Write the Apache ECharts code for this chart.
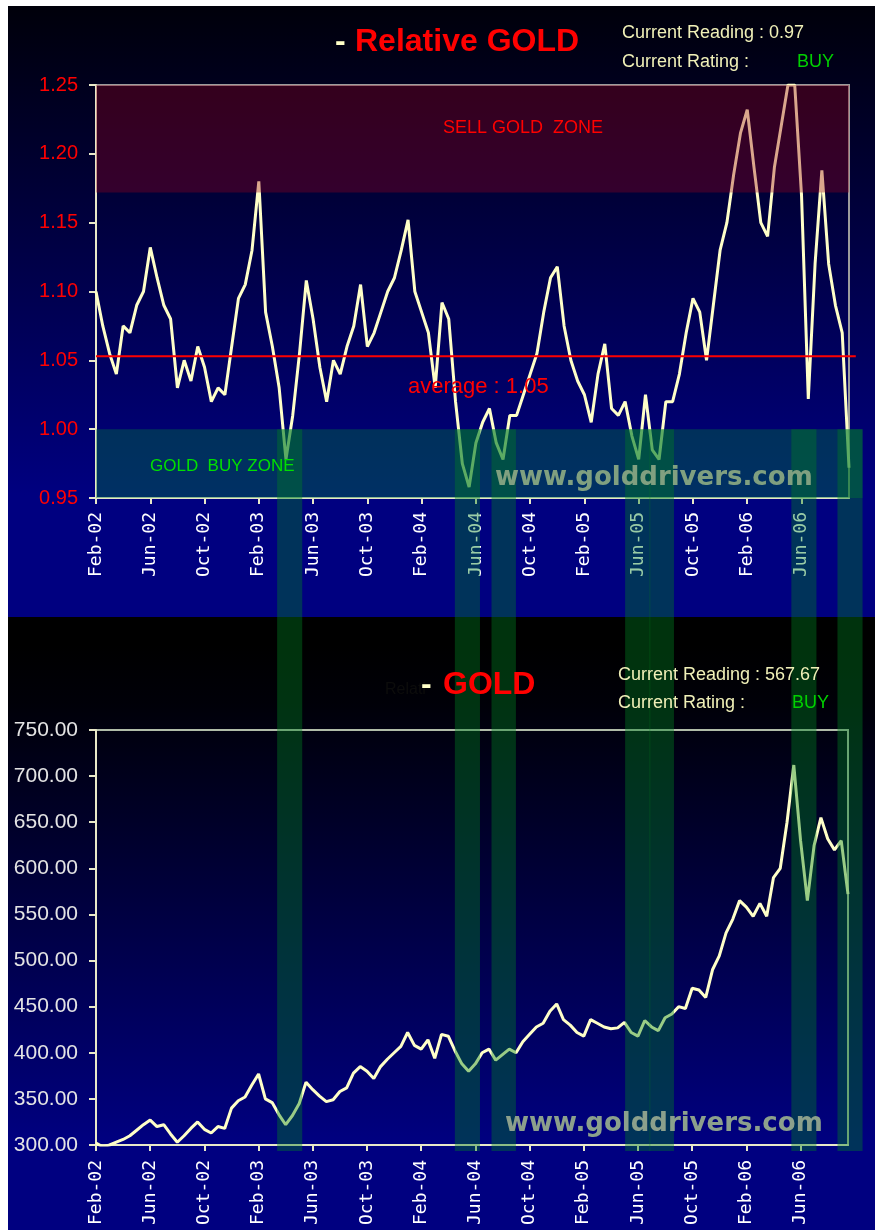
<!DOCTYPE html>
<html>
<head>
<meta charset="utf-8">
<script src="https://cdn.jsdelivr.net/npm/echarts@6/dist/echarts.min.js"></script>
<style>
  html, body { margin: 0; padding: 0; background: #fff; }
  #wrap { position: relative; width: 875px; height: 1230px; overflow: hidden; background: #fff; }
  .panel { position: absolute; left: 8px; right: 0; }
  #p1 { top: 6px; height: 611px; background: linear-gradient(#00000a 0%, #000080 80%, #000080 100%); }
  #gap { top: 617px; height: 28px; background: #000; }
  #p2 { top: 645px; height: 585px; background: linear-gradient(#000000 0%, #000008 10%, #000080 85%); }
  #chart { position: absolute; left: 0; top: 0; width: 875px; height: 1230px; }
</style>
</head>
<body>
<div id="wrap">
  <div class="panel" id="p1"></div>
  <div class="panel" id="gap"></div>
  <div class="panel" id="p2"></div>
  <div id="chart"></div>
</div>
<script>
// half-month steps, Feb-02 .. Sep-06
const monthNames = ['Jan', 'Feb', 'Mar', 'Apr', 'May', 'Jun', 'Jul', 'Aug', 'Sep', 'Oct', 'Nov', 'Dec'];
const categories = [];
for (let m = 1; m <= 56; m++) {
  const lab = monthNames[m % 12] + '-0' + (2 + Math.floor(m / 12));
  categories.push(lab, lab + ' (2)');
}

// relative gold ratio
const relGold = [
  1.100, 1.075, 1.055, 1.040, 1.075, 1.070, 1.090, 1.100, 1.132, 1.110,
  1.090, 1.080, 1.030, 1.050, 1.035, 1.060, 1.045, 1.020, 1.030, 1.025,
  1.060, 1.095, 1.105, 1.130, 1.180, 1.085, 1.060, 1.030, 0.978, 1.010,
  1.055, 1.108, 1.080, 1.045, 1.020, 1.050, 1.040, 1.060, 1.075, 1.105,
  1.060, 1.070, 1.085, 1.100, 1.110, 1.130, 1.152, 1.100, 1.085, 1.070,
  1.030, 1.092, 1.080, 1.020, 0.975, 0.958, 0.990, 1.005, 1.015, 0.990,
  0.978, 1.010, 1.010, 1.025, 1.040, 1.055, 1.085, 1.110, 1.118, 1.075,
  1.050, 1.035, 1.025, 1.005, 1.040, 1.062, 1.015, 1.010, 1.020, 0.995,
  0.978, 1.025, 0.985, 0.978, 1.020, 1.020, 1.040, 1.070, 1.095, 1.085,
  1.050, 1.090, 1.130, 1.150, 1.185, 1.215, 1.232, 1.190, 1.150, 1.140,
  1.190, 1.220, 1.250, 1.250, 1.170, 1.022, 1.120, 1.188, 1.120, 1.090,
  1.070, 0.972
];

// gold price, USD
const goldPrice = [
  302, 298, 300, 303, 306, 310, 316, 322, 327, 320,
  322, 312, 303, 310, 318, 325, 317, 313, 320, 318,
  340, 348, 352, 365, 377, 350, 346, 333, 322, 332,
  345, 368, 360, 353, 347, 349, 358, 362, 378, 385,
  380, 372, 385, 393, 400, 407, 422, 408, 404, 414,
  394, 420, 418, 402, 388, 380, 388, 400, 404, 392,
  398, 404, 400, 412, 420, 428, 432, 445, 453, 436,
  430, 422, 418, 436, 432, 428, 426, 427, 433, 422,
  418, 435, 428, 424, 438, 442, 450, 448, 470, 468,
  460, 490, 505, 530, 545, 565, 558, 548, 562, 548,
  590, 600, 650, 712, 630, 565, 625, 655, 632, 620,
  630, 572
];

const relAverage = 1.053;
const sellZone = [1.172, 1.25];
const buyZone = [0.95, 1.00];
// buy-signal periods, in half-month steps from Feb-02
const buyBands = [[26.7, 30.4], [52.9, 56.6], [58.3, 61.9], [78.0, 81.7], [81.6, 85.2], [102.5, 106.2], [109.3, 113.0]];

const cream = '#e8e8c8';
const lineColor = '#ffffc8';

function xAxisOf(grid) {
  return {
    gridIndex: grid, type: 'category', data: categories, boundaryGap: false,
    axisLine: { onZero: false, lineStyle: { color: cream, width: 2 } },
    axisTick: { interval: 7, length: 6, lineStyle: { color: cream, width: 2 } },
    axisLabel: { interval: 7, rotate: 90, margin: grid === 0 ? 14 : 15, color: '#ffffff',
      fontFamily: 'DejaVu Sans Mono', fontSize: 18 },
    splitLine: { show: false }
  };
}

const option = {
  animation: false,
  backgroundColor: 'transparent',
  grid: [
    { left: 96, top: 85, width: 753, height: 413, show: true, borderColor: '#9c9c9c', borderWidth: 2, backgroundColor: 'transparent' },
    { left: 96, top: 730, width: 752, height: 415, show: true, borderColor: '#b0bca8', borderWidth: 2, backgroundColor: 'transparent' }
  ],
  xAxis: [xAxisOf(0), xAxisOf(1)],
  yAxis: [
    {
      gridIndex: 0, type: 'value', min: 0.95, max: 1.25, interval: 0.05,
      axisLine: { show: true, lineStyle: { color: cream, width: 2 } },
      axisTick: { show: true, length: 7, lineStyle: { color: cream, width: 2 } },
      axisLabel: { formatter: v => v.toFixed(2), color: '#ff0000', fontFamily: 'Liberation Sans', fontSize: 20, margin: 18 },
      splitLine: { show: false }
    },
    {
      gridIndex: 1, type: 'value', min: 300, max: 750, interval: 50,
      axisLine: { show: true, lineStyle: { color: cream, width: 2 } },
      axisTick: { show: true, length: 7, lineStyle: { color: cream, width: 2 } },
      axisLabel: { formatter: v => v.toFixed(2), color: '#e4e4e4', fontFamily: 'Liberation Sans', fontSize: 21, margin: 18 },
      splitLine: { show: false }
    }
  ],
  series: [
    {
      type: 'line', xAxisIndex: 0, yAxisIndex: 0, data: relGold, symbol: 'none',
      lineStyle: { color: lineColor, width: 3 }
    },
    {
      type: 'line', xAxisIndex: 1, yAxisIndex: 1, data: goldPrice, symbol: 'none',
      lineStyle: { color: lineColor, width: 3 }
    }
  ]
};

const chart = echarts.init(document.getElementById('chart'));
chart.setOption(option);

// overlays: zones, buy bands, average line, texts
const n = categories.length;
const x0 = chart.convertToPixel({ xAxisIndex: 0 }, 0);
const x1 = chart.convertToPixel({ xAxisIndex: 0 }, n - 1);
const xAt = i => x0 + (x1 - x0) * i / (n - 1);
const yTop = v => chart.convertToPixel({ yAxisIndex: 0 }, v);
const yBot = v => chart.convertToPixel({ yAxisIndex: 1 }, v);

function rect(xa, ya, xb, yb, fill, z) {
  return { type: 'rect', silent: true, z: z, shape: { x: xa, y: ya, width: xb - xa, height: yb - ya }, style: { fill: fill } };
}
function txt(x, y, text, fill, font, z) {
  return { type: 'text', silent: true, z: z || 20, x: x, y: y,
    style: { text: text, fill: fill, font: font, verticalAlign: 'middle', textVerticalAlign: 'middle' } };
}

const g = [];
const yAvg = yTop(relAverage);
g.push({ type: 'line', silent: true, z: 5, shape: { x1: xAt(0), y1: yAvg, x2: xAt(112), y2: yAvg },
  style: { stroke: '#ff0000', lineWidth: 2 } });
g.push(rect(xAt(0), yTop(sellZone[1]), xAt(n - 1), yTop(sellZone[0]), 'rgba(150,0,30,0.35)', 10));
g.push(rect(xAt(0), yTop(buyZone[1]), xAt(113), yTop(buyZone[0]), 'rgba(0,120,60,0.4)', 10));
buyBands.forEach(b => {
  g.push(rect(xAt(b[0]), yTop(buyZone[1]), xAt(b[1]), yBot(300) + 6, 'rgba(0,128,32,0.4)', 11));
});

const titleFont = 'bold 32px "Liberation Sans", Arial, sans-serif';
const infoFont = '18px "Liberation Sans", Arial, sans-serif';
// top panel
g.push(txt(335, 42, '-', '#ffffc8', titleFont));
g.push(txt(355, 42, 'Relative GOLD', '#ff0000', titleFont));
g.push(txt(622, 33, 'Current Reading : 0.97', '#f0f0b8', infoFont));
g.push(txt(622, 62, 'Current Rating :', '#f0f0b8', infoFont));
g.push(txt(797, 62, 'BUY', '#00d000', infoFont));
g.push(txt(443, 128, 'SELL GOLD  ZONE', '#ff0000', '18px "Liberation Sans", Arial, sans-serif'));
g.push(txt(150, 466, 'GOLD  BUY ZONE', '#00e000', '17px "Liberation Sans", Arial, sans-serif'));
g.push(txt(408, 387, 'average : 1.05', '#ff0000', '22px "Liberation Sans", Arial, sans-serif'));
g.push(txt(495, 478, 'www.golddrivers.com', '#80a080', 'bold 26px "DejaVu Sans", sans-serif', 12));
// bottom panel
g.push(txt(385, 690, 'Relati', '#0c0c0c', '16px "Liberation Sans", Arial, sans-serif'));
g.push(txt(421, 685, '-', '#ffffc8', titleFont));
g.push(txt(443, 685, 'GOLD', '#ff0000', titleFont));
g.push(txt(618, 675, 'Current Reading : 567.67', '#f0f0b8', infoFont));
g.push(txt(618, 703, 'Current Rating :', '#f0f0b8', infoFont));
g.push(txt(792, 703, 'BUY', '#00d000', infoFont));
g.push(txt(505, 1124, 'www.golddrivers.com', '#8ca08c', 'bold 26px "DejaVu Sans", sans-serif', 12));

chart.setOption({ graphic: g });
</script>
</body>
</html>
